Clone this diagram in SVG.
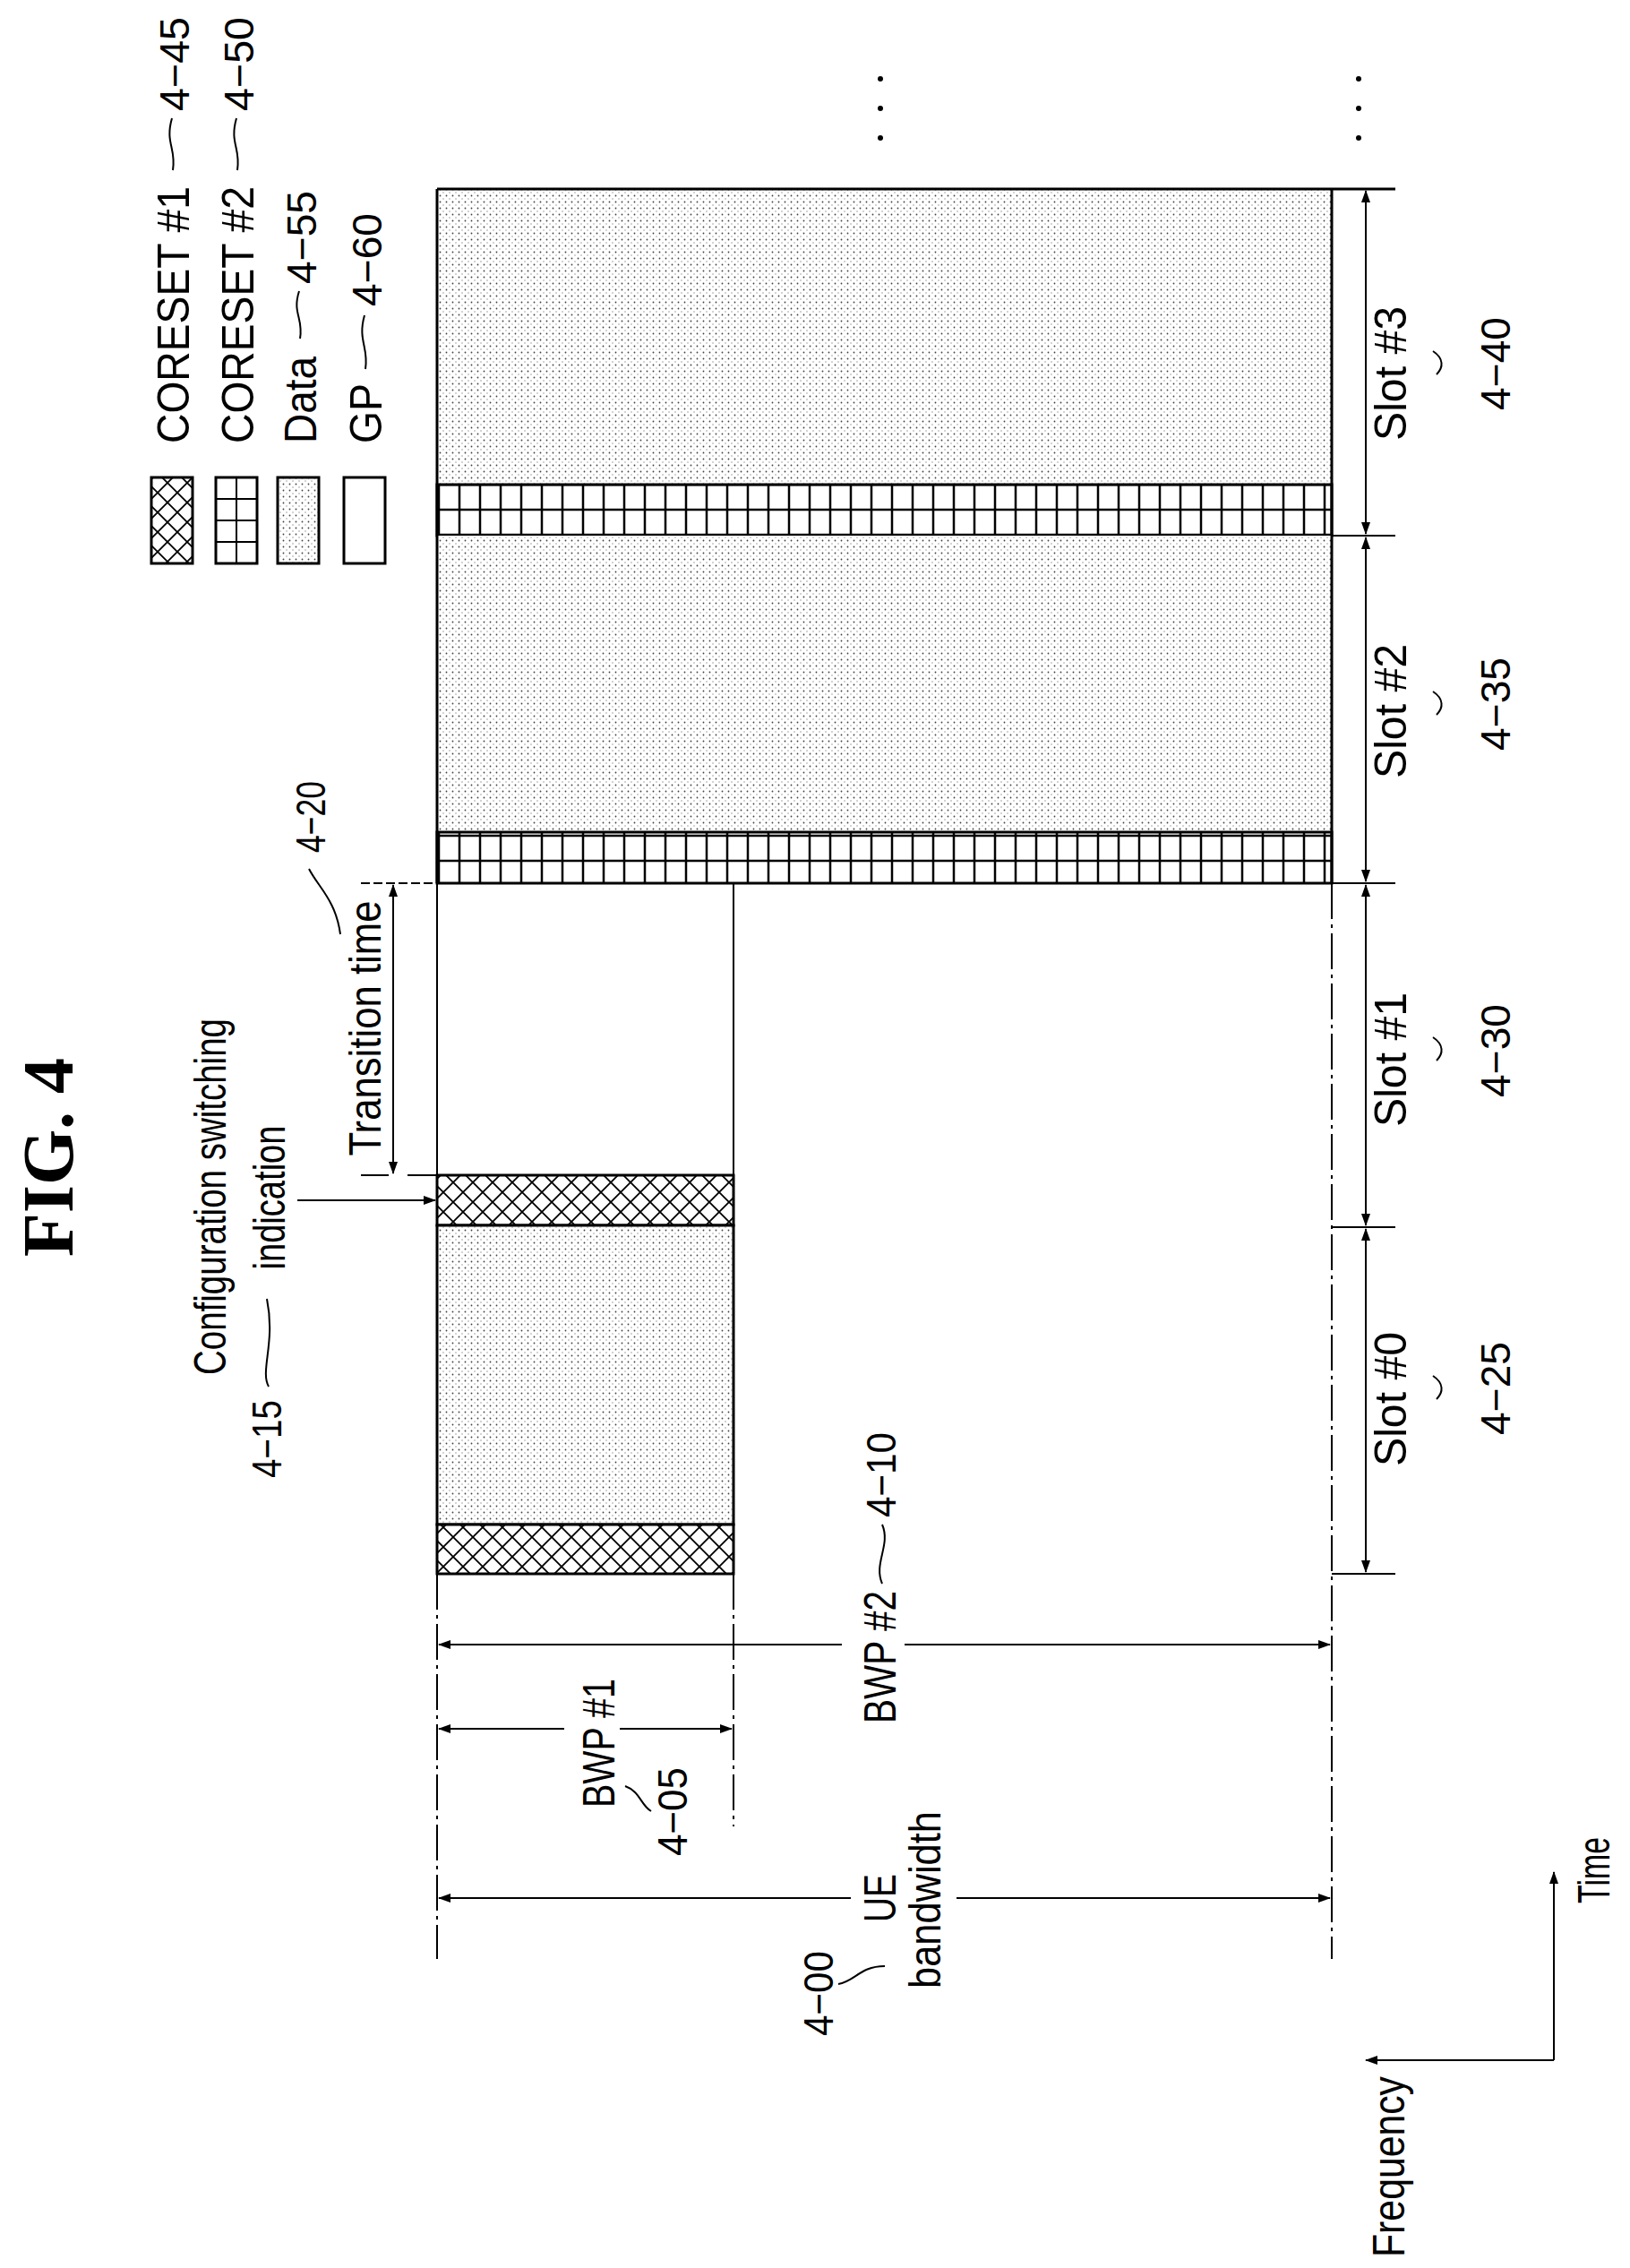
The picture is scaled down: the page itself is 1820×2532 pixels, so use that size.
<svg xmlns="http://www.w3.org/2000/svg" width="1820" height="2532" viewBox="0 0 1820 2532">
<defs>
<pattern id="cross" width="22" height="22" patternUnits="userSpaceOnUse"><rect width="22" height="22" fill="#fff"/><path d="M0,0 L22,22 M22,0 L0,22 M-11,11 L11,33 M11,-11 L33,11 M-11,11 L11,-11 M11,33 L33,11" stroke="#000" stroke-width="1.8"/></pattern>
<pattern id="grid" x="490" y="541" width="23" height="28" patternUnits="userSpaceOnUse"><rect width="23" height="28" fill="#fff" stroke="#000" stroke-width="2.5"/></pattern>
<pattern id="lgrid" x="241" y="533" width="23" height="24" patternUnits="userSpaceOnUse"><rect width="23" height="24" fill="#fff" stroke="#000" stroke-width="2"/></pattern>
<pattern id="data" width="7" height="7" patternUnits="userSpaceOnUse"><rect width="7" height="7" fill="#fff"/><circle cx="1.5" cy="1.5" r="0.9" fill="#444"/><circle cx="5" cy="5" r="0.7" fill="#888"/></pattern>
<marker id="ah" markerWidth="14" markerHeight="10" refX="13" refY="5" orient="auto-start-reverse" markerUnits="userSpaceOnUse"><path d="M0,0 L14,5 L0,10 Z" fill="#000"/></marker>
<style>
text{font-family:"Liberation Sans",Arial,sans-serif;font-size:50px;fill:#000}
.lbl{font-size:46px}
.ln{stroke:#000;stroke-width:2;fill:none}
.th{stroke:#000;stroke-width:3;fill:none}
.dd{stroke:#000;stroke-width:2;fill:none;stroke-dasharray:40,6,4,6}
.ar{stroke:#000;stroke-width:2;fill:none;marker-start:url(#ah);marker-end:url(#ah)}
.ae{stroke:#000;stroke-width:2;fill:none;marker-end:url(#ah)}
</style>
</defs>
<text transform="translate(81,1292) rotate(-90)" text-anchor="middle" style="font-family:'Liberation Serif',serif;font-weight:bold;font-size:80px">FIG. 4</text>

<g id="legend">
<rect x="169" y="533" width="46" height="96" style="fill:url(#cross)" class="th"/>
<rect x="241" y="533" width="46" height="96" style="fill:url(#lgrid)" class="th"/>
<rect x="310" y="533" width="46" height="96" style="fill:url(#data)" class="th"/>
<rect x="384" y="533" width="46" height="96" class="th"/>
<text transform="translate(211,495) rotate(-90)" textLength="287" lengthAdjust="spacingAndGlyphs">CORESET #1</text>
<text transform="translate(283,495) rotate(-90)" textLength="287" lengthAdjust="spacingAndGlyphs">CORESET #2</text>
<text transform="translate(353,495) rotate(-90)" textLength="97" lengthAdjust="spacingAndGlyphs">Data</text>
<text transform="translate(426,495) rotate(-90)" textLength="67" lengthAdjust="spacingAndGlyphs">GP</text>
<text class="lbl" transform="translate(211,124) rotate(-90)" textLength="105" lengthAdjust="spacingAndGlyphs">4−45</text>
<text class="lbl" transform="translate(283,124) rotate(-90)" textLength="105" lengthAdjust="spacingAndGlyphs">4−50</text>
<text class="lbl" transform="translate(353,317) rotate(-90)" textLength="104" lengthAdjust="spacingAndGlyphs">4−55</text>
<text class="lbl" transform="translate(426,342) rotate(-90)" textLength="104" lengthAdjust="spacingAndGlyphs">4−60</text>
<path class="ln" d="M193,190 C197,165 184,160 192,132"/>
<path class="ln" d="M265,190 C269,165 256,160 264,132"/>
<path class="ln" d="M335,378 C339,355 326,350 334,325"/>
<path class="ln" d="M408,412 C412,388 399,380 407,352"/>
</g>

<g id="dots" fill="#000">
<circle cx="983" cy="88" r="3"/><circle cx="983" cy="121" r="3"/><circle cx="983" cy="154" r="3"/>
<circle cx="1517" cy="88" r="3"/><circle cx="1517" cy="121" r="3"/><circle cx="1517" cy="154" r="3"/>
</g>

<g id="bwp2-slots">
<rect x="488" y="211" width="999" height="330" style="fill:url(#data)"/>
<rect x="488" y="541" width="999" height="57" style="fill:url(#grid)" class="th"/>
<rect x="488" y="598" width="999" height="331" style="fill:url(#data)"/>
<rect x="488" y="929" width="999" height="57" style="fill:url(#grid)" class="th"/>
<path class="th" d="M488,211 H1558 M1487,211 V986 M488,211 V986"/>
<path class="ln" d="M1487,598 H1558 M1487,986 H1558 M1487,1370 H1558 M1487,1757 H1558"/>
<path class="ln" d="M403,986 H488" stroke-dasharray="10,4"/>
</g>

<g id="bwp1">
<rect x="488" y="1312" width="331" height="56" style="fill:url(#cross)" class="th"/>
<rect x="488" y="1368" width="331" height="334" style="fill:url(#data)" class="th"/>
<rect x="488" y="1702" width="331" height="55" style="fill:url(#cross)" class="th"/>
<path class="ln" d="M488,986 V1312 M819,986 V1312"/>
</g>

<g id="connectors">
<path class="dd" d="M488,1757 V2187 M1487,986 V2187 M819,1757 V2039"/>
<path class="ar" d="M1525,213 V596"/>
<path class="ar" d="M1525,600 V984"/>
<path class="ar" d="M1525,988 V1368"/>
<path class="ar" d="M1525,1372 V1755"/>
<path class="ar" d="M439,988 V1310"/>
<path class="ln" d="M403,1312 H434 M455,1312 H488"/>
<path class="ae" d="M332,1340 H486"/>
<path class="ae" d="M940,1836 H490"/><path class="ae" d="M1010,1836 H1485"/>
<path class="ae" d="M630,1930 H490"/><path class="ae" d="M692,1930 H817"/>
<path class="ae" d="M950,2119 H490"/><path class="ae" d="M1068,2119 H1485"/>
<path class="ae" d="M1735,2300 V2090"/>
<path class="ae" d="M1735,2300 H1525"/>
</g>

<g id="slot-labels">
<text transform="translate(1570,417) rotate(-90)" text-anchor="middle" textLength="150" lengthAdjust="spacingAndGlyphs">Slot #3</text>
<text class="lbl" transform="translate(1686,406) rotate(-90)" text-anchor="middle" textLength="104" lengthAdjust="spacingAndGlyphs">4−40</text>
<path class="ln" d="M1600,392 C1612,400 1612,410 1604,418"/>
<text transform="translate(1570,794) rotate(-90)" text-anchor="middle" textLength="150" lengthAdjust="spacingAndGlyphs">Slot #2</text>
<text class="lbl" transform="translate(1686,786) rotate(-90)" text-anchor="middle" textLength="104" lengthAdjust="spacingAndGlyphs">4−35</text>
<path class="ln" d="M1600,772 C1612,780 1612,790 1604,798"/>
<text transform="translate(1570,1183) rotate(-90)" text-anchor="middle" textLength="150" lengthAdjust="spacingAndGlyphs">Slot #1</text>
<text class="lbl" transform="translate(1686,1173) rotate(-90)" text-anchor="middle" textLength="104" lengthAdjust="spacingAndGlyphs">4−30</text>
<path class="ln" d="M1600,1158 C1612,1166 1612,1176 1604,1184"/>
<text transform="translate(1570,1562) rotate(-90)" text-anchor="middle" textLength="150" lengthAdjust="spacingAndGlyphs">Slot #0</text>
<text class="lbl" transform="translate(1686,1550) rotate(-90)" text-anchor="middle" textLength="104" lengthAdjust="spacingAndGlyphs">4−25</text>
<path class="ln" d="M1600,1536 C1612,1544 1612,1554 1604,1562"/>
</g>

<g id="transition">
<text transform="translate(425,1148) rotate(-90)" text-anchor="middle" textLength="285" lengthAdjust="spacingAndGlyphs">Transition time</text>
<text class="lbl" transform="translate(363,952) rotate(-90)" textLength="80" lengthAdjust="spacingAndGlyphs">4−20</text>
<path class="ln" d="M345,970 C355,990 375,1005 380,1043"/>
</g>

<g id="config">
<text transform="translate(252,1336) rotate(-90)" text-anchor="middle" textLength="398" lengthAdjust="spacingAndGlyphs">Configuration switching</text>
<text transform="translate(318,1337) rotate(-90)" text-anchor="middle" textLength="161" lengthAdjust="spacingAndGlyphs">indication</text>
<text class="lbl" transform="translate(314,1650) rotate(-90)" textLength="87" lengthAdjust="spacingAndGlyphs">4−15</text>
<path class="ln" d="M300,1548 C290,1530 308,1500 298,1450"/>
</g>

<g id="bw-labels">
<text transform="translate(1000,1850) rotate(-90)" text-anchor="middle" textLength="148" lengthAdjust="spacingAndGlyphs">BWP #2</text>
<text class="lbl" transform="translate(1000,1694) rotate(-90)" textLength="95" lengthAdjust="spacingAndGlyphs">4−10</text>
<path class="ln" d="M985,1768 C975,1745 995,1725 985,1702"/>
<text transform="translate(686,1946) rotate(-90)" text-anchor="middle" textLength="144" lengthAdjust="spacingAndGlyphs">BWP #1</text>
<text class="lbl" transform="translate(767,2072) rotate(-90)" textLength="99" lengthAdjust="spacingAndGlyphs">4−05</text>
<path class="ln" d="M698,1994 C715,2000 715,2015 727,2022"/>
<text transform="translate(1000,2119) rotate(-90)" text-anchor="middle" textLength="54" lengthAdjust="spacingAndGlyphs">UE</text>
<text transform="translate(1050,2121) rotate(-90)" text-anchor="middle" textLength="198" lengthAdjust="spacingAndGlyphs">bandwidth</text>
<text class="lbl" transform="translate(930,2273) rotate(-90)" textLength="95" lengthAdjust="spacingAndGlyphs">4−00</text>
<path class="ln" d="M936,2215 C955,2212 960,2195 988,2195"/>
</g>

<g id="axes">
<text transform="translate(1797,2125) rotate(-90)" textLength="74" lengthAdjust="spacingAndGlyphs">Time</text>
<text transform="translate(1568,2520) rotate(-90)" textLength="202" lengthAdjust="spacingAndGlyphs">Frequency</text>
</g>
</svg>
